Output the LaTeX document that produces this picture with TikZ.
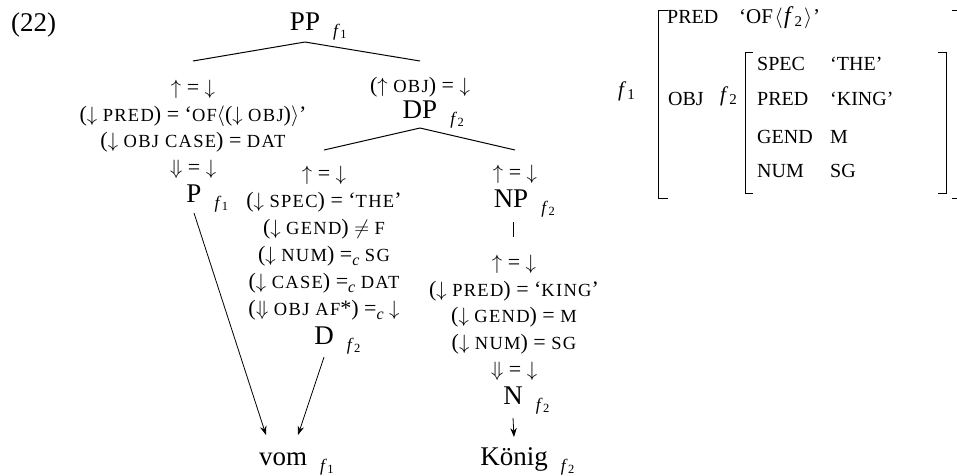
\documentclass[tikz,border=0pt]{standalone}
\usepackage{fontspec}
\setmainfont{Liberation Serif}
\newfontfamily\capsface[LetterSpace=7]{Liberation Serif}
\usetikzlibrary{arrows.meta}

% small-capital feature names inside the annotations
\newcommand\fsc[1]{{\capsface\fontsize{18.5}{18.5}\selectfont #1}}
% f-structure label attached to a category
\newcommand\catf[1]{\hspace{13pt}\raisebox{-6pt}{\fontsize{17.5}{17.5}\selectfont\textit{f}\kern0.5pt\raisebox{-2.5pt}{\fontsize{12.5}{12.5}\selectfont #1}}}
% f-structure label in the attribute-value matrix
\newcommand\avmf[1]{\textit{f}\kern1pt\raisebox{-3pt}{\fontsize{15}{15}\selectfont #1}}
% constraining equation
\newcommand\eqc{=\raisebox{-3.5pt}{\fontsize{16}{16}\selectfont\textit{c}}}

% multi-line annotations are placed by the baseline of their last line
\tikzset{
  cat/.style={inner sep=0pt, anchor=base, font=\fontsize{27}{27}\selectfont},
  ann/.style={inner sep=0pt, anchor=base, align=center, font=\fontsize{22}{26.7}\selectfont},
  annwide/.style={ann, font=\fontsize{22}{27}\selectfont},
  avm/.style={inner sep=0pt, anchor=base west, font=\fontsize{20}{20}\selectfont},
  branch/.style={line width=1pt},
  arr/.style={line width=0.8pt, -{Stealth[length=9pt,width=6.5pt]}},
  brk/.style={line width=1pt},
}

\begin{document}
\begin{tikzpicture}[x=1pt,y=-1pt]
\useasboundingbox (0,0) rectangle (957,475);

\node[inner sep=0pt, anchor=base west, font=\fontsize{27}{27}\selectfont] (exno) at (11,31) {(22)};

% c-structure
\node[cat] (PP) at (305,30) {PP\rlap{\catf{1}}};
\node[ann] (lann) at (193,174.6) {$\uparrow$ = $\downarrow$\\
  ($\downarrow$ \fsc{PRED}) = ‘\fsc{OF}$\langle$($\downarrow$ \fsc{OBJ})$\rangle$’\\
  ($\downarrow$ \fsc{OBJ CASE}) = \fsc{DAT}\\
  $\Downarrow$ = $\downarrow$};
\node[ann] (dpann) at (420,92.5) {($\uparrow$ \fsc{OBJ}) = $\downarrow$};
\node[cat] (DP) at (420,118) {DP\rlap{\catf{2}}};
\node[cat] (P) at (194,202) {P\rlap{\catf{1}}};
\node[annwide] (dann) at (324,315.5) {$\uparrow$ = $\downarrow$\\
  ($\downarrow$ \fsc{SPEC}) = ‘\fsc{THE}’\\
  ($\downarrow$ \fsc{GEND}) $\neq$ \fsc{F}\\
  ($\downarrow$ \fsc{NUM}) \eqc\ \fsc{SG}\\
  ($\downarrow$ \fsc{CASE}) \eqc\ \fsc{DAT}\\
  ($\Downarrow$ \fsc{OBJ AF}*) \eqc\ $\downarrow$};
\node[cat] (D) at (324,344) {D\rlap{\catf{2}}};
\node[ann] (npann) at (515,179.5) {$\uparrow$ = $\downarrow$};
\node[cat] (NP) at (511,207) {NP\rlap{\catf{2}}};
\node[ann] (nann) at (514,376.3) {$\uparrow$ = $\downarrow$\\
  ($\downarrow$ \fsc{PRED}) = ‘\fsc{KING}’\\
  ($\downarrow$ \fsc{GEND}) = \fsc{M}\\
  ($\downarrow$ \fsc{NUM}) = \fsc{SG}\\
  $\Downarrow$ = $\downarrow$};
\node[cat] (N) at (513,404) {N\rlap{\catf{2}}};
\node[cat] (vom) at (283,465) {vom\rlap{\catf{1}}};
\node[cat] (Konig) at (514,465) {König\rlap{\catf{2}}};

\draw[branch] ([yshift=-12]PP.base) -- ([yshift=113.6]lann.base);
\draw[branch] ([yshift=-12]PP.base) -- ([yshift=31.5]dpann.base);
\draw[branch] ([yshift=-10]DP.base) -- ([yshift=165.5]dann.base);
\draw[branch] ([yshift=-10]DP.base) -- ([yshift=29.5]npann.base);
\draw[branch] ([xshift=2,yshift=-15]NP.base) -- ([xshift=-1,yshift=139.3]nann.base);
\draw[arr] ([yshift=-11]P.base) -- ([xshift=-17,yshift=30]vom.base);
\draw[arr] ([yshift=-13]D.base) -- ([xshift=15,yshift=30]vom.base);
\draw[arr] ([yshift=-14]N.base) -- ([yshift=28]Konig.base);

% f-structure
\node[avm, font=\fontsize{21}{21}\selectfont] (f1) at (618,96) {\avmf{1}};
\node[avm] (pred) at (667,23) {PRED};
\node[avm, font=\fontsize{21}{21}\selectfont] (predv) at (739,23)
  {‘OF\kern1.5pt$\langle$\kern1.5pt{\fontsize{24}{24}\selectfont\avmf{2}}\kern2pt$\rangle$\kern1pt’};
\node[avm] (obj) at (668,105) {OBJ};
\node[avm, font=\fontsize{21}{21}\selectfont] (f2) at (720,101) {\avmf{2}};
\node[avm] (spec) at (757,70) {SPEC};
\node[avm] (specv) at (830,70) {‘THE’};
\node[avm] (pred2) at (757,105) {PRED};
\node[avm] (predv2) at (830,105) {‘KING’};
\node[avm] (gend) at (757,143) {GEND};
\node[avm] (gendv) at (830,143) {M};
\node[avm] (num) at (757,177) {NUM};
\node[avm] (numv) at (830,177) {SG};

\draw[brk] (668,10) -- (658,10) -- (658,198) -- (668,198);
\draw[brk] (753,52) -- (745,52) -- (745,193) -- (753,193);
\draw[brk] (938,52) -- (946,52) -- (946,193) -- (938,193);
\begin{scope}
  \clip (0,0) rectangle (957,475);
  \draw[brk] (952,10) -- (962,10) -- (962,198) -- (952,198);
\end{scope}
\end{tikzpicture}
\end{document}
